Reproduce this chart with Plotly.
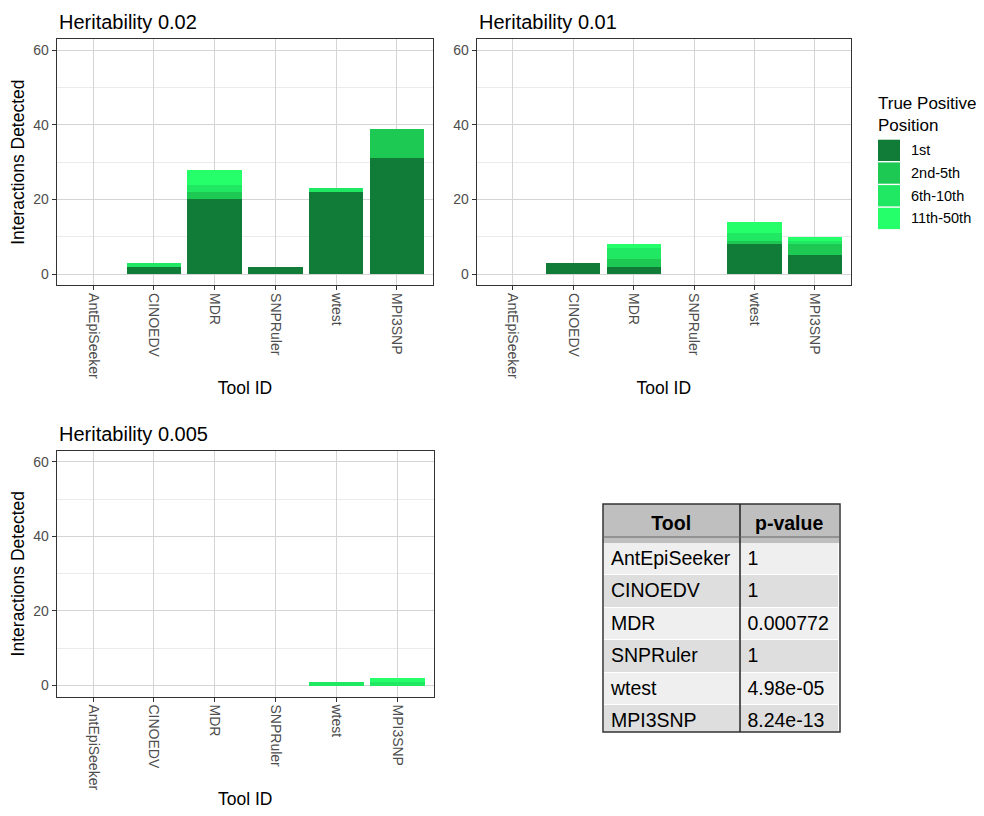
import plotly.graph_objects as go

tools = ["AntEpiSeeker", "CINOEDV", "MDR", "SNPRuler", "wtest", "MPI3SNP"]
positions = ["1st", "2nd-5th", "6th-10th", "11th-50th"]
colors = ["#107C38", "#1DC853", "#21E862", "#24FF6A"]

# Heritability 0.02
h002_1st = [0, 2, 20, 2, 22, 31]
h002_2nd5th = [0, 0, 2, 0, 0, 8]
h002_6th10th = [0, 1, 2, 0, 1, 0]
h002_11th50th = [0, 0, 4, 0, 0, 0]
# Heritability 0.01
h001_1st = [0, 3, 2, 0, 8, 5]
h001_2nd5th = [0, 0, 2, 0, 1, 3]
h001_6th10th = [0, 0, 3, 0, 2, 1]
h001_11th50th = [0, 0, 1, 0, 3, 1]
# Heritability 0.005
h0005_1st = [0, 0, 0, 0, 0, 0]
h0005_2nd5th = [0, 0, 0, 0, 0, 0]
h0005_6th10th = [0, 0, 0, 0, 1, 1]
h0005_11th50th = [0, 0, 0, 0, 0, 1]

panel_titles = ["Heritability 0.02", "Heritability 0.01", "Heritability 0.005"]
panels = [
    [h002_1st, h002_2nd5th, h002_6th10th, h002_11th50th],
    [h001_1st, h001_2nd5th, h001_6th10th, h001_11th50th],
    [h0005_1st, h0005_2nd5th, h0005_6th10th, h0005_11th50th],
]

legend_title = "True Positive<br>Position"

table_tools = ["AntEpiSeeker", "CINOEDV", "MDR", "SNPRuler", "wtest", "MPI3SNP"]
table_pvalues = ["1", "1", "0.000772", "1", "4.98e-05", "8.24e-13"]

OFF = 8  # page body margin
W, H = 984 - OFF, 816 - OFF
FONT = "Liberation Sans, Arial, Helvetica, sans-serif"

def fx(px):
    return (px - OFF) / W

def fy(py):
    return 1 - (py - OFF) / H

# pixel boxes in window coordinates (left, top, right, bottom)
boxes = [
    (56.7, 39, 433.3, 285.3),
    (476.7, 39, 851, 285.3),
    (56.7, 450.7, 433.7, 696.7),
]

fig = go.Figure()

for i, series in enumerate(panels):
    xa = "x" if i == 0 else f"x{i+1}"
    ya = "y" if i == 0 else f"y{i+1}"
    for name, vals, col in zip(positions, series, colors):
        fig.add_trace(go.Bar(
            x=tools, y=vals, name=name, marker=dict(color=col, line=dict(width=0)),
            xaxis=xa, yaxis=ya, showlegend=False, legendgroup=name,
        ))

layout_axes = {}
for i, box in enumerate(boxes):
    l, t, r, b = box
    xk = "xaxis" if i == 0 else f"xaxis{i+1}"
    yk = "yaxis" if i == 0 else f"yaxis{i+1}"
    yname = "y" if i == 0 else f"y{i+1}"
    xname = "x" if i == 0 else f"x{i+1}"
    layout_axes[xk] = dict(
        domain=[fx(l), fx(r)], anchor=yname, type="category",
        categoryorder="array", categoryarray=tools, range=[-0.6, 5.6],
        tickangle=90, tickfont=dict(size=14, color="#4D4D4D", family=FONT),
        ticks="outside", ticklen=4, tickcolor="#333333",
        showgrid=True, gridcolor="#D4D4D4", gridwidth=0.7,
        showline=True, linecolor="#333333", linewidth=1, mirror=True,
        title=dict(text="Tool ID", font=dict(size=17.5, color="black", family=FONT), standoff=3),
        automargin=False, fixedrange=True,
    )
    layout_axes[yk] = dict(
        domain=[fy(b), fy(t)], anchor=xname, range=[-3, 63],
        tickvals=[0, 20, 40, 60], tickfont=dict(size=14, color="#4D4D4D", family=FONT),
        ticks="outside", ticklen=4, tickcolor="#333333",
        showgrid=True, gridcolor="#D4D4D4", gridwidth=0.7, zeroline=False,
        minor=dict(tickvals=[10, 30, 50], showgrid=True, gridcolor="#EBEBEB", gridwidth=0.5, ticks=""),
        showline=True, linecolor="#333333", linewidth=1, mirror=True,
        title=dict(text="Interactions Detected" if i != 1 else "",
                   font=dict(size=17.5, color="black", family=FONT), standoff=5),
        automargin=False, fixedrange=True,
    )

annotations = []
for title, box in zip(panel_titles, boxes):
    l, t, r, b = box
    annotations.append(dict(
        text=title, x=fx(l), y=fy(t), xref="paper", yref="paper",
        xanchor="left", yanchor="bottom", yshift=4, showarrow=False,
        font=dict(size=20, color="black", family=FONT),
    ))

shapes = []

# legend (drawn manually with large square keys)
annotations.append(dict(
    text=legend_title, x=fx(876), y=fy(92), xref="paper", yref="paper",
    xanchor="left", yanchor="top", align="left", showarrow=False,
    font=dict(size=17, color="black", family=FONT),
))
key_top, key_h, key_l, key_w = 139, 22.7, 878, 22
for k, (name, col) in enumerate(zip(positions, colors)):
    y0 = key_top + k * key_h
    shapes.append(dict(type="rect", xref="paper", yref="paper",
                       x0=fx(key_l), x1=fx(key_l + key_w), y0=fy(y0 + key_h - 0.7), y1=fy(y0 + 0.7),
                       line=dict(width=0), fillcolor=col))
    annotations.append(dict(
        text=name, x=fx(909), y=fy(y0 + key_h / 2), xref="paper", yref="paper",
        xanchor="left", yanchor="middle", showarrow=False,
        font=dict(size=14.5, color="black", family=FONT),
    ))

# table
tl, tt, tr, tb = 603, 504, 840, 732
header_h = 33
row_h = (tb - tt - header_h) / len(table_tools)
row_fills = ["#EFEFEF" if k % 2 == 0 else "#DEDEDE" for k in range(len(table_tools))]
fig.add_trace(go.Table(
    domain=dict(x=[fx(tl), fx(tr)], y=[fy(tb), fy(tt)]),
    columnwidth=[137, 100],
    header=dict(
        values=["<b>Tool</b>", "<b>p-value</b>"], fill_color="#BFBFBF",
        align="center", height=header_h, line=dict(color="#BFBFBF", width=1),
        font=dict(size=19.5, color="black", family=FONT),
    ),
    cells=dict(
        values=[table_tools, table_pvalues], fill_color=[row_fills, row_fills],
        align="left", height=row_h, line=dict(color="white", width=1),
        font=dict(size=19.5, color="black", family=FONT),
    ),
))

shapes += [
    dict(type="rect", xref="paper", yref="paper", x0=fx(tl), x1=fx(tr), y0=fy(tb), y1=fy(tt),
         line=dict(color="#333333", width=1.5), fillcolor="rgba(0,0,0,0)"),
    dict(type="line", xref="paper", yref="paper", x0=fx(tl + 137), x1=fx(tl + 137), y0=fy(tb), y1=fy(tt),
         line=dict(color="#222222", width=1.5)),
    dict(type="line", xref="paper", yref="paper", x0=fx(tl), x1=fx(tr), y0=fy(tt + header_h), y1=fy(tt + header_h),
         line=dict(color="#666666", width=1)),
]

fig.update_layout(
    width=W, height=H, margin=dict(l=0, r=0, t=0, b=0),
    paper_bgcolor="white", plot_bgcolor="white",
    barmode="stack", bargap=0.1, showlegend=False,
    font=dict(family=FONT, color="black"),
    annotations=annotations, shapes=shapes,
    **layout_axes,
)

fig.write_html("out.html")
